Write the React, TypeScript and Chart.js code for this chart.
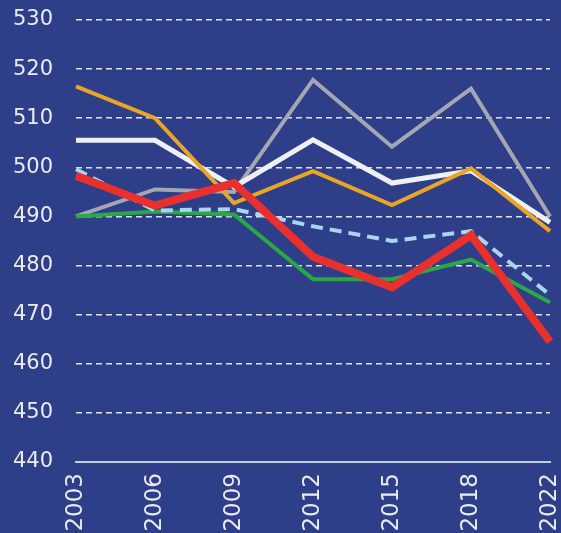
import React, { useEffect, useRef } from "react";
import { Chart, registerables } from "chart.js";

Chart.register(...registerables);

const years = ["2003", "2006", "2009", "2012", "2015", "2018", "2022"];
const grayValues = [490, 495.5, 495, 517.8, 504.2, 516, 490];
const whiteValues = [505.5, 505.5, 496, 505.6, 496.8, 499.3, 488.8];
const orangeValues = [516.5, 510, 492.7, 499.2, 492.3, 499.8, 487];
const dashedValues = [499.6, 491.2, 491.5, 488, 485, 487, 474];
const greenValues = [490, 491, 490.4, 477.2, 477.2, 481.2, 472.5];
const redValues = [498.3, 492.2, 496.8, 481.8, 475.6, 486.2, 464.5];
const yMin = 440;
const yMax = 530;
const yStep = 10;

const BG = "rgb(46,62,136)";
const CANVAS_W = 561;
const CANVAS_H = 545;

export default function App() {
  const ref = useRef<HTMLCanvasElement | null>(null);

  useEffect(() => {
    document.documentElement.style.background = BG;
    document.body.style.margin = "0";
    document.body.style.background = BG;
    document.body.style.overflow = "hidden";
    const canvas = ref.current;
    if (!canvas) return;
    const font = "'DejaVu Sans', sans-serif";
    const chart = new Chart(canvas, {
      type: "line",
      data: {
        labels: years,
        datasets: [
          { label: "gray", data: grayValues, borderColor: "#a3a6b3", borderWidth: 4, order: 5 },
          { label: "white", data: whiteValues, borderColor: "#eef0f8", borderWidth: 5, order: 4 },
          { label: "orange", data: orangeValues, borderColor: "#e9a626", borderWidth: 4, order: 3 },
          { label: "green", data: greenValues, borderColor: "#2aa845", borderWidth: 4, order: 2 },
          { label: "dashed", data: dashedValues, borderColor: "#a9d5f2", borderWidth: 4, borderDash: [12, 7], order: 1 },
          { label: "red", data: redValues, borderColor: "#e8302e", borderWidth: 8, order: 0 },
        ],
      },
      options: {
        animation: false,
        responsive: false,
        devicePixelRatio: 1,
        elements: { point: { radius: 0, hoverRadius: 0 }, line: { tension: 0 } },
        layout: { padding: { left: 0, right: 11, top: 20, bottom: 0 } },
        plugins: { legend: { display: false }, tooltip: { enabled: false } },
        scales: {
          x: {
            type: "category",
            offset: false,
            grid: { display: false, drawTicks: false },
            border: { display: true, color: "#c8cbe8", width: 2 },
            ticks: {
              color: "#e8eaf4",
              font: { family: font, size: 23 },
              minRotation: 90,
              maxRotation: 90,
              autoSkip: false,
              padding: 11,
            },
            afterFit: (axis: any) => {
              axis.height = CANVAS_H - 462;
              axis.paddingLeft = 0;
              axis.paddingRight = 0;
              axis.paddingTop = 0;
              axis.paddingBottom = 0;
            },
          },
          y: {
            min: yMin,
            max: yMax,
            grid: { color: "rgba(255,255,255,0.85)", lineWidth: 1.5, drawTicks: false },
            border: { display: false, dash: [6, 4] },
            ticks: {
              stepSize: yStep,
              color: "#e8eaf4",
              font: { family: font, size: 21 },
              padding: 23,
            },
            afterFit: (axis: any) => {
              axis.width = 76;
              axis.paddingTop = 0;
              axis.paddingBottom = 0;
            },
          },
        },
      },
    });
    return () => chart.destroy();
  }, []);

  return (
    <div style={{ width: CANVAS_W, height: CANVAS_H, background: BG }}>
      <canvas ref={ref} width={CANVAS_W} height={CANVAS_H} style={{ display: "block" }} />
    </div>
  );
}
